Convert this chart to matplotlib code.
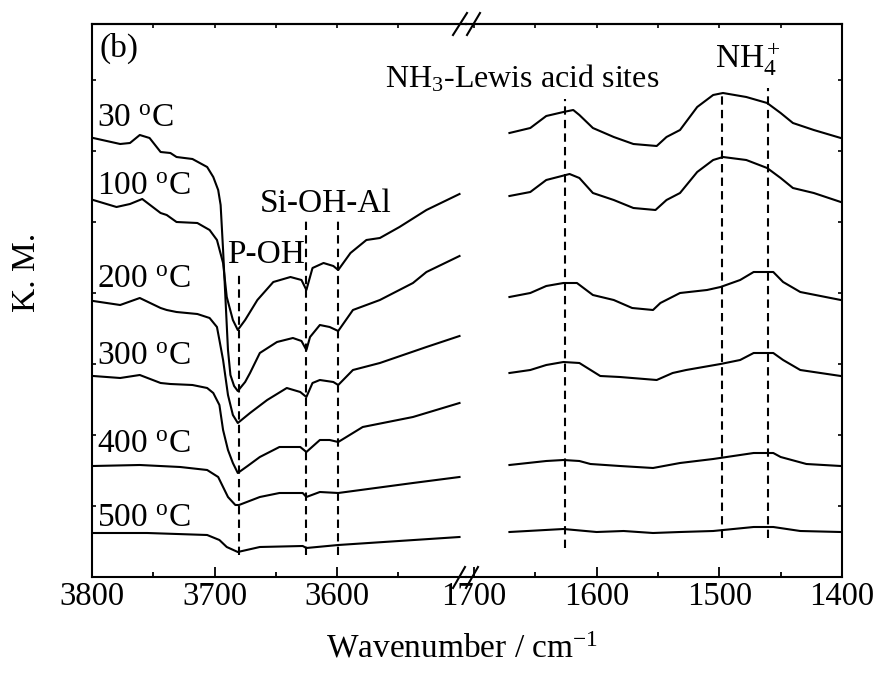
import matplotlib
matplotlib.use("Agg")
import matplotlib.pyplot as plt
from matplotlib.lines import Line2D

plt.rcParams['font.family'] = ['Liberation Serif', 'DejaVu Serif']
plt.rcParams['mathtext.fontset'] = 'custom'
plt.rcParams['mathtext.rm'] = 'Liberation Serif'
plt.rcParams['mathtext.it'] = 'Liberation Serif:italic'
plt.rcParams['mathtext.bf'] = 'Liberation Serif:bold'

# ---------------- data (offset K.M. spectra, arbitrary units) ----------------
temps = ['30', '100', '200', '300', '400', '500']

# OH region, 3800-3500 cm-1
wn_oh_30 = [3799, 3777, 3769, 3761, 3753, 3744, 3736, 3731, 3718, 3706, 3701, 3697, 3695, 3693, 3691,
            3689, 3687, 3684, 3681, 3675, 3671, 3663, 3649, 3636, 3629, 3625, 3622, 3614, 3606, 3599,
            3587, 3565, 3538, 3527, 3500]
km_oh_30 = [4.39, 4.33, 4.34, 4.42, 4.39, 4.25, 4.24, 4.20, 4.18, 4.10, 4.00, 3.87, 3.72, 3.27, 2.77,
            2.27, 2.02, 1.91, 1.86, 1.95, 2.04, 2.24, 2.35, 2.39, 2.36, 2.27, 2.40, 2.52, 2.50, 2.46,
            2.67, 2.77, 2.94, 3.05, 3.21]

wn_oh_100 = [3799, 3780, 3769, 3759, 3744, 3739, 3731, 3714, 3704, 3698, 3693, 3690, 3685, 3681, 3675,
             3665, 3652, 3638, 3629, 3625, 3620, 3611, 3603, 3599, 3589, 3576, 3565, 3549, 3527, 3500]
km_oh_100 = [3.77, 3.70, 3.73, 3.78, 3.64, 3.62, 3.55, 3.54, 3.47, 3.37, 3.14, 2.80, 2.57, 2.47, 2.57,
             2.77, 2.95, 3.00, 2.97, 2.87, 3.09, 3.14, 3.11, 3.07, 3.24, 3.37, 3.39, 3.50, 3.67, 3.83]

wn_oh_200 = [3799, 3777, 3761, 3744, 3739, 3731, 3714, 3704, 3698, 3696, 3693, 3689, 3685, 3681, 3671,
             3657, 3641, 3630, 3625, 3620, 3614, 3603, 3599, 3587, 3565, 3527, 3500]
km_oh_200 = [2.76, 2.72, 2.79, 2.69, 2.67, 2.65, 2.63, 2.59, 2.50, 2.37, 2.17, 1.82, 1.62, 1.54, 1.64,
             1.77, 1.89, 1.85, 1.80, 1.94, 1.97, 1.95, 1.92, 2.07, 2.14, 2.30, 2.41]

wn_oh_300 = [3799, 3777, 3761, 3744, 3736, 3718, 3706, 3701, 3696, 3693, 3689, 3685, 3681, 3673, 3663,
             3647, 3630, 3625, 3614, 3606, 3599, 3579, 3538, 3500]
km_oh_300 = [2.01, 1.99, 2.02, 1.94, 1.93, 1.92, 1.89, 1.84, 1.72, 1.47, 1.27, 1.14, 1.04, 1.11, 1.20,
             1.30, 1.30, 1.25, 1.37, 1.37, 1.35, 1.50, 1.60, 1.74]

wn_oh_400 = [3799, 3761, 3728, 3706, 3697, 3693, 3689, 3683, 3680, 3663, 3647, 3628, 3625, 3614, 3599,
             3538, 3500]
km_oh_400 = [1.11, 1.12, 1.10, 1.07, 1.00, 0.90, 0.80, 0.72, 0.72, 0.80, 0.84, 0.84, 0.80, 0.85, 0.84,
             0.94, 1.00]

wn_oh_500 = [3799, 3755, 3706, 3696, 3690, 3681, 3663, 3628, 3625, 3599, 3500]
km_oh_500 = [0.44, 0.44, 0.42, 0.37, 0.30, 0.25, 0.30, 0.31, 0.29, 0.32, 0.40]

# NH region, 1700-1400 cm-1
wn_nh_30 = [1671, 1654, 1641, 1627, 1619, 1614, 1603, 1586, 1570, 1551, 1543, 1532, 1518, 1505, 1497,
            1478, 1461, 1450, 1440, 1423, 1401]
km_nh_30 = [4.44, 4.49, 4.61, 4.65, 4.67, 4.62, 4.49, 4.40, 4.33, 4.31, 4.40, 4.47, 4.70, 4.82, 4.84,
            4.80, 4.74, 4.64, 4.54, 4.47, 4.39]

wn_nh_100 = [1671, 1654, 1641, 1622, 1614, 1603, 1586, 1570, 1552, 1543, 1532, 1518, 1505, 1497, 1478,
             1461, 1450, 1440, 1423, 1401]
km_nh_100 = [3.81, 3.85, 3.97, 4.03, 3.99, 3.84, 3.77, 3.69, 3.67, 3.77, 3.84, 4.05, 4.17, 4.20, 4.17,
             4.09, 3.99, 3.89, 3.84, 3.75]

wn_nh_200 = [1671, 1654, 1641, 1627, 1616, 1603, 1586, 1571, 1554, 1548, 1532, 1510, 1499, 1483, 1472,
             1456, 1448, 1434, 1401]
km_nh_200 = [2.80, 2.84, 2.91, 2.94, 2.94, 2.82, 2.77, 2.69, 2.67, 2.74, 2.84, 2.87, 2.90, 2.97, 3.05,
             3.05, 2.95, 2.85, 2.77]

wn_nh_300 = [1671, 1654, 1641, 1627, 1614, 1597, 1581, 1551, 1538, 1527, 1499, 1483, 1472, 1456, 1448,
             1434, 1401]
km_nh_300 = [2.04, 2.07, 2.12, 2.15, 2.14, 2.01, 2.00, 1.97, 2.04, 2.07, 2.13, 2.17, 2.24, 2.24, 2.17,
             2.07, 2.01]

wn_nh_400 = [1671, 1641, 1627, 1614, 1605, 1581, 1554, 1532, 1505, 1472, 1456, 1450, 1429, 1401]
km_nh_400 = [1.12, 1.16, 1.17, 1.16, 1.13, 1.11, 1.09, 1.14, 1.18, 1.24, 1.24, 1.20, 1.13, 1.11]

wn_nh_500 = [1671, 1627, 1600, 1578, 1554, 1532, 1505, 1472, 1456, 1434, 1401]
km_nh_500 = [0.45, 0.48, 0.45, 0.46, 0.44, 0.45, 0.46, 0.50, 0.50, 0.46, 0.45]

# band markers (dashed lines)
band_oh = [3680, 3625, 3599]
band_oh_top = [3.02, 3.57, 3.57]
band_oh_bot = [0.22, 0.22, 0.22]
band_nh = [1626, 1498, 1460]
band_nh_top = [4.78, 4.85, 4.89]
band_nh_bot = [0.29, 0.39, 0.39]

oh_ticks_major = [3800, 3700, 3600]
oh_ticks_minor = [3750, 3650, 3550]
nh_ticks_major = [1700, 1600, 1500, 1400]
nh_ticks_minor = [1650, 1550, 1450]
y_ticks = [0.71, 1.42, 2.13, 2.84, 3.55, 4.26, 4.97]

oh_series = [(wn_oh_30, km_oh_30), (wn_oh_100, km_oh_100), (wn_oh_200, km_oh_200),
             (wn_oh_300, km_oh_300), (wn_oh_400, km_oh_400), (wn_oh_500, km_oh_500)]
nh_series = [(wn_nh_30, km_nh_30), (wn_nh_100, km_nh_100), (wn_nh_200, km_nh_200),
             (wn_nh_300, km_nh_300), (wn_nh_400, km_nh_400), (wn_nh_500, km_nh_500)]

# ---------------- figure ----------------
W, H = 882, 677
fig = plt.figure(figsize=(W / 100, H / 100), dpi=100)

def fx(px):
    return px / W

def fy(py):
    return 1 - py / H

ax_bottom, ax_top = 577, 24
ax1 = fig.add_axes([fx(92), fy(ax_bottom), fx(466) - fx(92), (ax_bottom - ax_top) / H])
ax2 = fig.add_axes([fx(466), fy(ax_bottom), fx(842) - fx(466), (ax_bottom - ax_top) / H])

LW = 1.5
FS = 24
TFS = 23.5

for ax in (ax1, ax2):
    ax.set_facecolor('none')
    ax.set_ylim(0, 5.53)
    ax.set_yticks(y_ticks)
    ax.set_yticklabels([])
    for s in ax.spines.values():
        s.set_linewidth(LW)

ax1.set_xlim(3800, 3494.7)
ax2.set_xlim(1706.4, 1400)
ax1.spines['right'].set_visible(False)
ax2.spines['left'].set_visible(False)

for (wn, km) in oh_series:
    ax1.plot(wn, km, color='black', lw=LW, solid_joinstyle='round')
for (wn, km) in nh_series:
    ax2.plot(wn, km, color='black', lw=LW, solid_joinstyle='round')

ax1.vlines(band_oh, band_oh_bot, band_oh_top, colors='black', lw=LW, linestyles=(0, (4, 2.5)))
ax2.vlines(band_nh, band_nh_bot, band_nh_top, colors='black', lw=LW, linestyles=(0, (4, 2.5)))

# ticks
ax1.set_xticks(oh_ticks_major)
ax1.set_xticks(oh_ticks_minor, minor=True)
ax2.set_xticks(nh_ticks_major)
ax2.set_xticks(nh_ticks_minor, minor=True)
for ax in (ax1, ax2):
    ax.tick_params(axis='x', which='major', direction='in', length=7, width=1.3,
                   labelsize=TFS, pad=3, top=False)
    ax.tick_params(axis='x', which='minor', direction='in', length=3.6, width=1.3, top=False)
    sec = ax.secondary_xaxis('top')
    sec.set_xticks(ax.get_xticks().tolist() + ax.get_xticks(minor=True).tolist())
    sec.tick_params(direction='in', length=3, width=1.2, labeltop=False)
    sec.spines['top'].set_linewidth(LW)
ax1.tick_params(axis='y', which='both', direction='in', length=3, width=1.2, left=True, right=False)
ax2.tick_params(axis='y', which='both', direction='in', length=3, width=1.2, left=False, right=True)

# axis break marks
for (x0, y0, x1, y1) in [(453, 588, 465, 567), (466, 588, 478, 567),
                         (453, 35, 467, 13), (467, 35, 480, 13)]:
    fig.add_artist(Line2D([fx(x0), fx(x1)], [fy(y0), fy(y1)], color='black', lw=LW,
                          transform=fig.transFigure))

# labels
ax1.text(3793.5, 5.29, '(b)', ha='left', va='center', fontsize=FS)
label_y = [4.50, 3.82, 2.89, 2.12, 1.24, 0.50]
for t, y in zip(temps, label_y):
    ax1.text(3796, y, t + r' $^{\mathrm{o}}$C', ha='left', va='baseline', fontsize=FS)
ax1.text(3663, 3.65, 'Si-OH-Al', ha='left', va='baseline', fontsize=FS)
ax1.text(3690, 3.14, 'P-OH', ha='left', va='baseline', fontsize=FS)
fig.text(fx(385), fy(87), r'NH$_3$-Lewis acid sites', ha='left', va='baseline', fontsize=FS - 1)
ax2.text(1503.5, 5.09, r'NH$_4^+$', ha='left', va='baseline', fontsize=FS)

fig.text(fx(462), fy(657), r'Wavenumber / cm$^{-1}$', ha='center', va='baseline', fontsize=FS)
fig.text(fx(27), fy(272), 'K. M.', rotation=90, ha='center', va='center', fontsize=FS)

fig.savefig('out.png', dpi=100)
